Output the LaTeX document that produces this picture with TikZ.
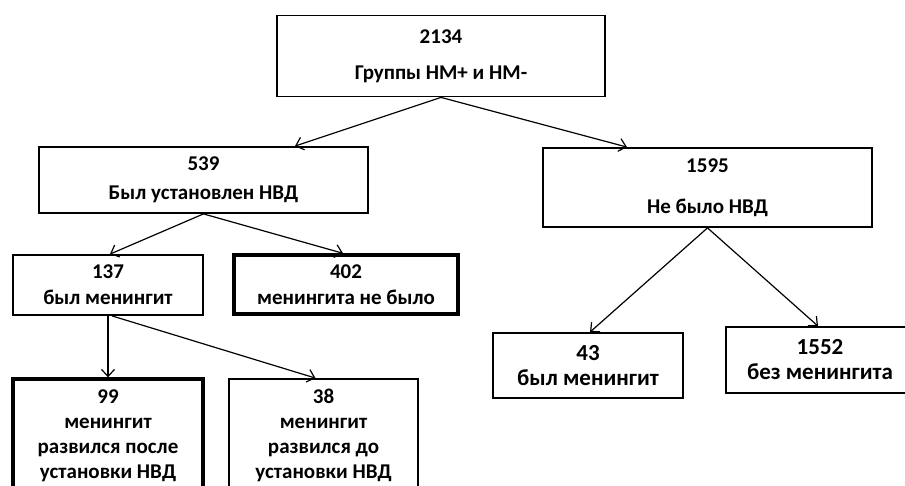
\documentclass[tikz,border=0pt]{standalone}
\usepackage{fontspec}
\setmainfont{Carlito}
\usepackage{tikz}
\usetikzlibrary{arrows.meta}

\begin{document}
\begin{tikzpicture}[x=1pt, y=-1pt, >={Straight Barb[length=7pt,width=13pt]}]
      \tikzstyle{every node}=[font=\bfseries\fontsize{21}{25}\selectfont, align=center, inner sep=0pt]
      \tikzstyle{box}=[draw, line width=1.8pt]
      \tikzstyle{boldbox}=[draw, line width=3.4pt]
      %%
  \clip (0,0) rectangle (905,485);
  \node (v_top) at (441,56) [box, minimum width=328pt, minimum height=81pt] {2134\\[11pt]Группы НМ+ и НМ-};
  \node (v_539) at (203.5,180) [box, minimum width=329pt, minimum height=66pt] {539\\[4pt]Был установлен НВД};
  \node (v_1595) at (707.5,187.5) [box, minimum width=329pt, minimum height=79pt] {1595\\[16pt]Не было НВД};
  \node (v_137) at (108,285) [box, minimum width=190pt, minimum height=60pt] {137\\[1pt]был менингит};
  \node (v_402) at (346,284.5) [boldbox, minimum width=224pt, minimum height=59pt] {402\\[1pt]менингита не было};
  \node (v_43) at (588,365.5) [box, minimum width=190pt, minimum height=65pt] {\fontsize{23}{27}\selectfont 43\\[0pt]\fontsize{23}{27}\selectfont был менингит};
  \node (v_1552) at (820,360) [box, minimum width=188pt, minimum height=66pt] {\fontsize{23}{27}\selectfont 1552\\[0pt]\fontsize{23}{27}\selectfont без менингита};
  \node (v_99) at (108,435.5) [boldbox, minimum width=190pt, minimum height=113pt] {99\\менингит\\развился после\\установки НВД};
  \node (v_38) at (323.5,435.5) [box, minimum width=189pt, minimum height=113pt] {38\\менингит\\развился до\\установки НВД};
  \draw [->, line width=1.2pt] (v_top.south) -- ([xshift=91.5pt]v_539.north);
  \draw [->, line width=1.2pt] (v_top.south) -- ([xshift=-80.5pt]v_1595.north);
  \draw [->, line width=1.2pt] (v_539.south) -- ([xshift=2pt]v_137.north);
  \draw [->, line width=1.2pt] (v_539.south) -- ([xshift=-3pt]v_402.north);
  \draw [->, line width=1.2pt] (v_1595.south) -- ([xshift=2pt]v_43.north);
  \draw [->, line width=1.2pt] (v_1595.south) -- ([xshift=-2pt]v_1552.north);
  \draw [->, line width=1.2pt] (v_137.south) -- (v_99.north);
  \draw [->, line width=1.2pt] ([xshift=4pt]v_137.south) -- ([xshift=-8pt]v_38.north);
%
\end{tikzpicture}
\end{document}
